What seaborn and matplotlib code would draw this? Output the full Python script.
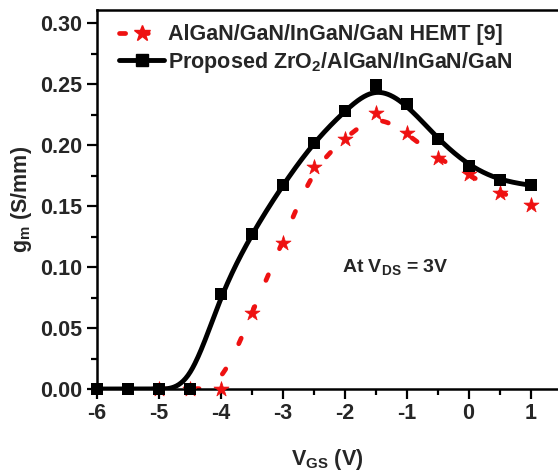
import numpy as np
import pandas as pd
import matplotlib
matplotlib.use('Agg')
import matplotlib.pyplot as plt
import seaborn as sns
from matplotlib.lines import Line2D
from matplotlib.ticker import MultipleLocator, FormatStrFormatter

# ---- data ----
vgs_prop = [-6, -5.5, -5, -4.5, -4, -3.5, -3, -2.5, -2, -1.5, -1, -0.5, 0, 0.5, 1]
gm_prop = [0, 0, 0, 0, 0.078, 0.127, 0.167, 0.202, 0.228, 0.249, 0.234, 0.205, 0.183, 0.171, 0.167]
vgs_ref = [-5, -4.5, -4, -3.5, -3, -2.5, -2, -1.5, -1, -0.5, 0, 0.5, 1]
gm_ref = [0, 0, 0, 0.062, 0.120, 0.182, 0.205, 0.226, 0.210, 0.189, 0.176, 0.161, 0.151]
label_ref = "AlGaN/GaN/InGaN/GaN HEMT [9]"
label_prop = "Proposed ZrO$_2$/AlGaN/InGaN/GaN"
xticks = [-6, -5, -4, -3, -2, -1, 0, 1]
yticks = [0.00, 0.05, 0.10, 0.15, 0.20, 0.25, 0.30]


def bspline_curve(x, y, per_seg=40):
    """Smooth B-spline display curve using the measured points as control points
    (like Origin's B-spline connector)."""
    P = np.column_stack([x, y]).astype(float)
    P = np.vstack([P[0], P[0], P, P[-1], P[-1]])
    t = np.linspace(0, 1, per_seg, endpoint=False)
    b0 = (1 - t) ** 3 / 6
    b1 = (3 * t ** 3 - 6 * t ** 2 + 4) / 6
    b2 = (-3 * t ** 3 + 3 * t ** 2 + 3 * t + 1) / 6
    b3 = t ** 3 / 6
    out = []
    for i in range(len(P) - 3):
        seg = (np.outer(b0, P[i]) + np.outer(b1, P[i + 1])
               + np.outer(b2, P[i + 2]) + np.outer(b3, P[i + 3]))
        out.append(seg)
    out.append(P[-1][None, :])
    out = np.vstack(out)
    return out[:, 0], out[:, 1]


sns.set_theme(style="white")
plt.rcParams['font.family'] = ['Liberation Sans', 'DejaVu Sans']
plt.rcParams['font.weight'] = 'bold'
plt.rcParams['mathtext.fontset'] = 'custom'
plt.rcParams['mathtext.rm'] = 'Liberation Sans:bold'
plt.rcParams['mathtext.it'] = 'Liberation Sans:bold'
plt.rcParams['mathtext.bf'] = 'Liberation Sans:bold'

FS = 15.5
RED = '#ee1111'
RED_DASH = (0, (1.3, 6.0))

fig = plt.figure(figsize=(5.58, 4.71), dpi=100)
ax = fig.add_axes([96.5 / 558, 1 - 389 / 471, 1 - 96.5 / 558, (389 - 10) / 471])

df_prop = pd.DataFrame({'VGS': vgs_prop, 'gm': gm_prop})
df_ref = pd.DataFrame({'VGS': vgs_ref, 'gm': gm_ref})

xr, yr = bspline_curve(df_ref['VGS'], df_ref['gm'])
sns.lineplot(x=xr, y=yr, ax=ax, color=RED, lw=3.4, sort=False, legend=False,
             linestyle=RED_DASH, zorder=2)
ax.lines[-1].set_dash_capstyle('round')
sns.scatterplot(data=df_ref, x='VGS', y='gm', ax=ax, marker='*', s=130, color=RED,
                edgecolor=RED, linewidth=0.5, zorder=3, legend=False, clip_on=False)

xp, yp = bspline_curve(df_prop['VGS'], df_prop['gm'])
sns.lineplot(x=xp, y=yp, ax=ax, color='black', lw=3.5, sort=False, legend=False, zorder=4)
sns.scatterplot(data=df_prop, x='VGS', y='gm', ax=ax, marker='s', s=80, color='black',
                edgecolor='black', linewidth=0, zorder=5, legend=False, clip_on=False)

ax.set_xlim(-6, (558 - 96.5) / 62 - 6)
ax.set_ylim(0, (389 - 10) / 1220)
ax.set_xticks(xticks)
ax.set_yticks(yticks)
ax.xaxis.set_minor_locator(MultipleLocator(0.5))
ax.yaxis.set_minor_locator(MultipleLocator(0.025))
ax.yaxis.set_major_formatter(FormatStrFormatter('%.2f'))
ax.xaxis.set_major_formatter(FormatStrFormatter('%d'))
ax.tick_params(which='major', direction='out', length=7, width=1.6, labelsize=FS, pad=3,
               bottom=True, left=True, color='black')
ax.tick_params(which='minor', direction='out', length=4, width=1.6, bottom=True, left=True,
               color='black')
for lab in ax.get_xticklabels() + ax.get_yticklabels():
    lab.set_fontweight('bold')
for s in ['left', 'bottom', 'top']:
    ax.spines[s].set_linewidth(1.8)
    ax.spines[s].set_color('black')
ax.spines['right'].set_visible(False)

ax.set_xlabel('V$_{GS}$ (V)', fontsize=FS, fontweight='bold', labelpad=17)
ax.set_ylabel('g$_{m}$ (S/mm)', fontsize=FS, fontweight='bold', labelpad=5)
ax.text(-2.04, 0.100, 'At V$_{DS}$ = 3V', fontsize=FS - 1.5, fontweight='bold',
        va='center', ha='left')

handles = [
    Line2D([], [], color=RED, lw=3.4, linestyle=(0, (1.3, 3.5)), dash_capstyle='round',
           marker='*', markersize=12, markeredgecolor=RED),
    Line2D([], [], color='black', lw=3.5, marker='s', markersize=8),
]
leg = ax.legend(handles, [label_ref, label_prop], loc='upper left', numpoints=1,
                bbox_to_anchor=(0.03, 0.985), frameon=False, fontsize=FS,
                handlelength=2.1, handletextpad=0.2, labelspacing=0.2, borderaxespad=0)
for t in leg.get_texts():
    t.set_fontweight('bold')

fig.savefig('out.png', dpi=100)
